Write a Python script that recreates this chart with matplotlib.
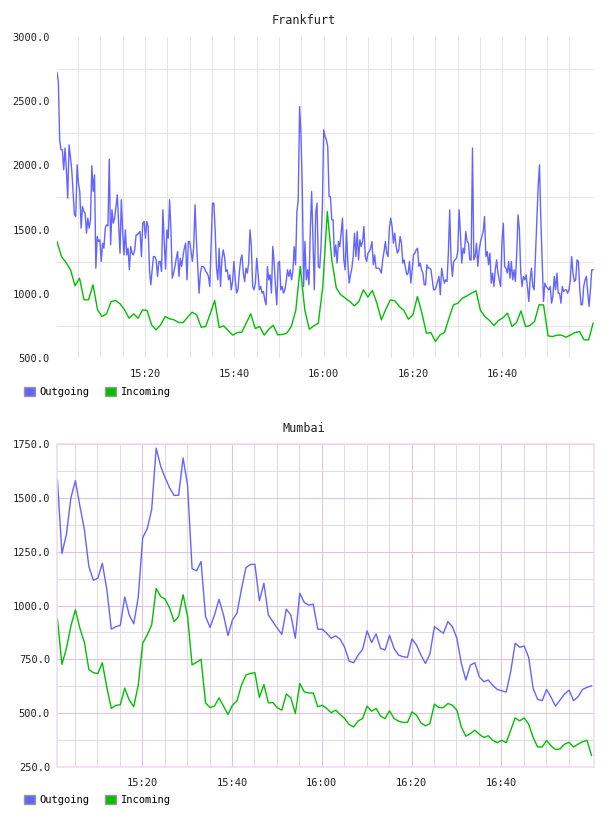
import numpy as np
import matplotlib
matplotlib.use("Agg")
import matplotlib.pyplot as plt
from matplotlib.patches import Patch
from matplotlib.ticker import FixedLocator, MultipleLocator

# Frankfurt traffic, outgoing sampled ~every 18s, incoming every minute
fra_out = [
    2724, 2654, 2199, 2122, 2122, 1966, 2135, 1966, 1745, 2160, 2070, 1966, 1784, 1615, 1602, 2005, 1862, 1797,
    1511, 1680, 1641, 1628, 1472, 1589, 1511, 1576, 1997, 1797, 1927, 1200, 1446, 1407, 1420, 1252, 1394, 1355,
    1511, 1537, 1529, 2049, 1381, 1654, 1550, 1589, 1680, 1771, 1550, 1316, 1732, 1485, 1303, 1498, 1303, 1355,
    1187, 1368, 1316, 1303, 1342, 1459, 1459, 1472, 1485, 1290, 1550, 1563, 1433, 1563, 1524, 1187, 1070, 1187,
    1290, 1290, 1264, 1135, 1252, 1252, 1174, 1654, 1407, 1192, 1498, 1433, 1732, 1498, 1122, 1161, 1213, 1277,
    1329, 1135, 1277, 1213, 1290, 1355, 1394, 1109, 1407, 1407,
    1329, 1252, 1368, 1693, 1420, 1213, 1005, 1161, 1213, 1213, 1200, 1174, 1161, 1135, 1057, 1394, 1706, 1706,
    1498, 1200, 1109, 1355, 1057, 1264, 1342, 1290, 1174, 1187, 1109, 1148, 1031, 1096, 1252, 1109, 1005, 1031,
    1161, 1264, 1303, 1161, 1096, 1200, 1161, 1239, 1498, 1368, 1057, 1031, 1083, 1277, 1161, 1031, 1057, 1005,
    1018, 953, 914, 1213, 1109, 1148, 1005, 1368, 1252, 1057, 914, 1239, 1252, 1031, 1057, 1005, 1031, 1096,
    1187, 1135, 1187, 1109, 1174, 1368, 1226, 1641, 1732, 2459, 2251, 1836, 1057, 1407, 1109, 1187, 1070, 1498,
    1797, 1420, 1031, 1628, 1706, 1213, 1200, 1368, 1680, 2277, 2225,
    2199, 2147, 1758, 1758, 1576, 1576, 1290, 1381, 1239, 1407, 1368, 1472, 1589, 1264, 1187, 1498, 1239, 1083,
    1148, 1200, 1290, 1472, 1290, 1485, 1264, 1420, 1368, 1407, 1524, 1290, 1252, 1316, 1329, 1355, 1407, 1226,
    1303, 1200, 1200, 1200, 1187, 1161, 1264, 1329, 1407, 1316, 1290, 1511, 1589, 1524, 1394, 1472, 1368, 1316,
    1342, 1446, 1394, 1239, 1264, 1200, 1148, 1161, 1252, 1083, 1187, 1303, 1316, 1342, 1355, 1213, 1239, 1187,
    1161, 1070, 1070, 1226, 1200, 1200, 1187, 1109, 1031, 1031, 1057, 1096, 1135, 992, 1200, 1135, 1083, 1109,
    1096, 1316, 1654, 1264, 1135, 1252, 1264, 1277, 1329, 1654, 1472, 1239,
    1355, 1316, 1485, 1407, 1394, 1264, 1264, 2135, 1264, 1290, 1394, 1213, 1342, 1407, 1446, 1485, 1602, 1290,
    1329, 1226, 1316, 1083, 1161, 1057, 1187, 1264, 1161, 1109, 1057, 1407, 1550, 1213, 1200, 1161, 1252, 1122,
    1252, 1109, 1187, 1096, 1316, 1615, 1498, 1161, 1057, 1135, 1109, 1148, 1057, 940, 1109, 1200, 1057, 1031,
    1303, 1576, 1836, 2005, 1576, 1264, 940, 1083, 1057, 1044, 1031, 1057, 927, 979, 1135, 1031, 1161, 1005,
    1005, 927, 1057, 1018, 1031, 1031, 1005, 1031, 1109, 1290, 1161, 1096, 1109, 1264, 1252, 1044, 914, 914,
    1057, 1109, 1135, 1005, 901, 1031, 1187, 1187,
]
fra_in = [
    1407, 1290, 1244, 1187, 1062, 1122, 953, 953, 1070, 875, 823, 844, 940, 948, 922, 875, 810, 844, 810, 875,
    870, 758, 719, 758, 823, 805, 797, 776, 776, 818, 857,
    836, 740, 745, 844, 948, 737, 750, 714, 678, 698, 701, 771, 844, 730, 745, 678, 724, 755, 680, 683,
    693, 745, 870, 1213, 875, 724, 750, 771, 1057, 1641,
    1264, 1044, 992, 966, 940, 906, 940, 1031, 974, 1026, 927, 797, 880, 953, 945, 901, 870, 802, 836, 979,
    849, 693, 698, 628, 680, 698, 810, 914, 927, 966,
    984, 1005, 1023, 870, 823, 792, 753, 792, 813, 849, 745, 776, 867, 745, 753, 784, 914, 914, 672, 667,
    678, 678, 662, 680, 698, 706, 641, 641, 771,
]

# Mumbai traffic, one sample per minute
bom_out = [
    1582, 1242, 1330, 1500, 1580, 1462, 1353, 1181, 1117, 1127, 1196, 1076, 890, 902, 908, 1040, 956, 915,
    1037, 1315, 1356, 1446, 1731, 1647, 1593, 1546, 1511, 1512, 1685, 1557, 1171, 1161, 1204, 949, 898, 956,
    1029, 956, 860, 933, 964, 1076, 1176, 1191, 1191, 1022, 1103, 956, 925, 894, 866, 983, 956, 848, 1057,
    1014, 1002, 1006, 890,
    890, 871, 848, 859, 843, 806, 742, 734, 770, 796, 882, 828, 868, 801, 793, 862, 801, 770, 762, 759, 845,
    817, 770, 731, 775, 902, 886, 871, 925, 902, 848, 731, 654, 723, 734, 669, 646, 654, 630, 610, 604, 598,
    693, 825, 806, 812, 759, 615, 564, 558, 610, 573, 533, 561, 589, 607, 558, 576, 610, 620, 627,
]
bom_in = [
    938, 727, 801, 905, 980, 894, 829, 703, 688, 684, 734, 620, 522, 536, 539, 616, 561, 530, 630, 825, 863,
    910, 1079, 1042, 1029, 988, 925, 949, 1050, 949, 724, 736, 750, 548, 526, 533, 571, 533, 494, 537, 557,
    630, 677, 685, 688, 573, 633, 548, 549, 525, 514, 589, 571, 498, 638, 599, 594, 594, 530,
    537, 522, 502, 514, 494, 475, 447, 436, 464, 475, 533, 509, 522, 486, 475, 511, 475, 463, 457, 457, 506,
    491, 455, 441, 452, 542, 526, 526, 545, 537, 514, 436, 393, 405, 421, 402, 387, 395, 374, 363, 374, 363,
    421, 478, 464, 478, 449, 387, 343, 343, 373, 348, 331, 334, 356, 365, 343, 356, 367, 374, 304,
]

# time axis in minutes after 15:00
tick_minutes = [20, 40, 60, 80, 100]
tick_labels = ["15:20", "15:40", "16:00", "16:20", "16:40"]

OUT_COLOR = "#6464ff"
IN_COLOR = "#00c000"
FONT = "DejaVu Sans Mono"
W, H = 608, 816

fig = plt.figure(figsize=(W / 100, H / 100), dpi=100)
fig.patch.set_facecolor("white")


def setup(ax, ylim, ystep, xlim, lavender):
    ax.set_xlim(*xlim)
    ax.set_ylim(*ylim)
    ax.xaxis.set_major_locator(FixedLocator(tick_minutes))
    ax.set_xticklabels(tick_labels)
    ax.xaxis.set_minor_locator(FixedLocator(list(range(5, 120, 5))))
    ax.yaxis.set_major_locator(MultipleLocator(ystep))
    ax.yaxis.set_minor_locator(MultipleLocator(ystep / 2))
    ax.yaxis.set_major_formatter(lambda v, p: "%.1f" % v)
    ax.tick_params(which="both", length=0)
    ax.tick_params(axis="x", pad=8, labelsize=7.5, labelcolor="#222222")
    ax.tick_params(axis="y", pad=5, labelsize=7.5, labelcolor="#222222")
    for lab in ax.get_xticklabels() + ax.get_yticklabels():
        lab.set_family(FONT)
    ax.set_axisbelow(True)
    if lavender:
        ax.grid(which="major", color="#dcc4dc", lw=0.75)
        ax.grid(which="minor", color="#e2dce2", lw=0.75)
        for s in ax.spines.values():
            s.set_color("#ecdcec")
            s.set_linewidth(1.1)
    else:
        ax.grid(axis="x", which="both", color="#e6e6e6", lw=0.75)
        ax.grid(axis="y", which="minor", color="#e6e6e6", lw=0.75)
        for s in ax.spines.values():
            s.set_visible(False)


def legend(y):
    handles = [Patch(facecolor=OUT_COLOR, edgecolor="#999999", label="Outgoing"),
               Patch(facecolor=IN_COLOR, edgecolor="#999999", label="Incoming")]
    fig.legend(handles=handles, loc="center left", bbox_to_anchor=(24 / W, 1 - y / H),
               ncol=2, frameon=False, handlelength=1.05, handleheight=1.05, handletextpad=0.45,
               columnspacing=1.5, borderpad=0, borderaxespad=0,
               prop={"family": FONT, "size": 7.5})


# Frankfurt
ax1 = fig.add_axes([57 / W, 1 - 358 / H, 537 / W, 321 / H])
t_out = np.linspace(0.3, 120.3, len(fra_out))
t_in = np.linspace(0.3, 120.3, len(fra_in))
ax1.plot(t_out, fra_out, color=OUT_COLOR, lw=1.0)
ax1.plot(t_in, fra_in, color=IN_COLOR, lw=1.0)
setup(ax1, (500, 3000), 500, (0.3, 120.5), False)
fig.text(0.5, 1 - 20 / H, "Frankfurt", ha="center", va="center", family=FONT, fontsize=8.5, color="#222222")
legend(392)

# Mumbai
ax2 = fig.add_axes([57 / W, 1 - 767 / H, 537 / W, 323 / H])
t_b = 1.1 + np.arange(len(bom_out))
ax2.plot(t_b, bom_out, color=OUT_COLOR, lw=1.0)
ax2.plot(1.1 + np.arange(len(bom_in)), bom_in, color=IN_COLOR, lw=1.0)
setup(ax2, (250, 1750), 250, (1.0, 120.66), True)
fig.text(0.5, 1 - 429 / H, "Mumbai", ha="center", va="center", family=FONT, fontsize=8.5, color="#222222")
legend(800)

fig.savefig("out.png", dpi=100)
